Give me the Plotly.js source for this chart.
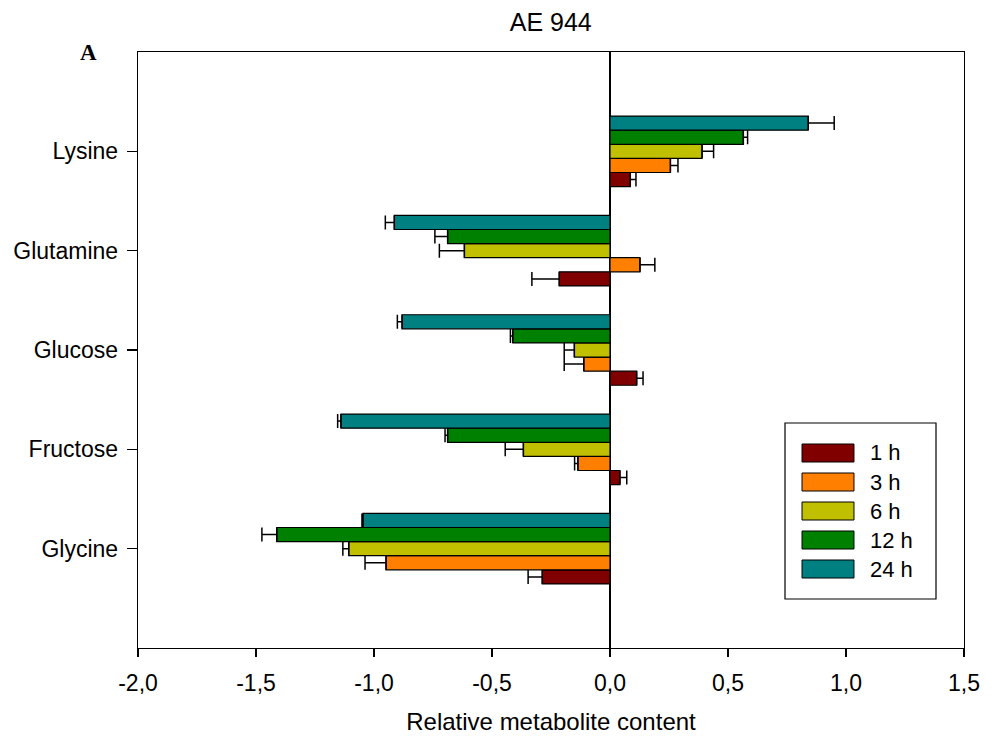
<!DOCTYPE html>
<html>
<head>
<meta charset="utf-8">
<script src="https://cdn.plot.ly/plotly-3.0.1.min.js"></script>
<style>html,body{margin:0;padding:0;background:#fff;}#chart{width:995px;height:737px;}</style>
</head>
<body>
<div id="chart"></div>
<script>
// Categories (bottom to top)
const metabolites = ["Glycine", "Fructose", "Glucose", "Glutamine", "Lysine"];
const seriesNames = ["1 h", "3 h", "6 h", "12 h", "24 h"];
const seriesColors = ["#800000", "#FF8000", "#C0C000", "#008000", "#008080"];

// Values per series, ordered like metabolites
const v1h  = [-0.287,  0.042,  0.113, -0.215, 0.086];
const v3h  = [-0.949, -0.136, -0.111,  0.127, 0.256];
const v6h  = [-1.107, -0.367, -0.151, -0.617, 0.390];
const v12h = [-1.412, -0.688, -0.412, -0.688, 0.565];
const v24h = [-1.047, -1.140, -0.881, -0.914, 0.840];

// Error magnitudes (one-sided, pointing away from zero)
const e1h  = [0.060, 0.029, 0.027, 0.116, 0.024];
const e3h  = [0.089, 0.014, 0.083, 0.063, 0.032];
const e6h  = [0.025, 0.077, 0.043, 0.106, 0.049];
const e12h = [0.063, 0.011, 0.010, 0.054, 0.018];
const e24h = [0.004, 0.014, 0.020, 0.038, 0.110];

const xTickVals = [-2.0, -1.5, -1.0, -0.5, 0.0, 0.5, 1.0, 1.5];
const xTickText = xTickVals.map(v => v.toFixed(1).replace(".", ","));

const values = [v1h, v3h, v6h, v12h, v24h];
const errors = [e1h, e3h, e6h, e12h, e24h];

const FONT = "Liberation Sans, Arial, Helvetica, sans-serif";

const traces = values.map((vals, i) => ({
  type: "bar",
  orientation: "h",
  name: seriesNames[i],
  y: metabolites,
  x: vals,
  marker: { color: seriesColors[i], line: { color: "#000", width: 1.2 } },
  error_x: {
    type: "data",
    symmetric: false,
    array: vals.map((v, j) => v >= 0 ? errors[i][j] : 0),
    arrayminus: vals.map((v, j) => v < 0 ? errors[i][j] : 0),
    color: "#000",
    thickness: 1.5,
    width: 7
  },
  showlegend: false,
  hoverinfo: "x+name"
}));

// Custom legend built from the series arrays
const shapes = [];
const annotations = [];
const lgX0 = 0.7833, lgX1 = 0.9661, lgY0 = 0.0822, lgY1 = 0.3775;
shapes.push({ type: "rect", xref: "paper", yref: "paper", x0: lgX0, x1: lgX1, y0: lgY0, y1: lgY1,
  line: { color: "#000", width: 1.2 }, fillcolor: "#fff", layer: "above" });
seriesNames.forEach((nm, i) => {
  const cy = (648 - (453 + 29 * i)) / 596;
  const h = 9 / 596;
  shapes.push({ type: "rect", xref: "paper", yref: "paper", x0: 0.8039, x1: 0.8668, y0: cy - h, y1: cy + h,
    line: { color: "#000", width: 1 }, fillcolor: seriesColors[i], layer: "above" });
  annotations.push({ xref: "paper", yref: "paper", x: 0.8838, y: cy, xanchor: "left", yanchor: "middle",
    text: nm, showarrow: false, font: { family: FONT, size: 22, color: "#000" } });
});
annotations.push({ xref: "paper", yref: "paper", x: -0.06, y: 1.0, xanchor: "center", yanchor: "middle",
  text: "<b>A</b>", showarrow: false, font: { family: "Liberation Serif, Times New Roman, serif", size: 23, color: "#000" } });

const layout = {
  width: 995, height: 737,
  margin: { l: 138, r: 31, t: 52, b: 89 },
  paper_bgcolor: "#fff", plot_bgcolor: "#fff",
  separators: ",.",
  font: { family: FONT, color: "#000", size: 22 },
  title: { text: "AE 944", x: 0.5535, xanchor: "center", y: 0.970, yanchor: "middle",
           font: { family: FONT, size: 25, color: "#000" } },
  barmode: "group",
  bargap: 0.29,
  bargroupgap: 0,
  xaxis: {
    range: [-2.0, 1.5],
    tickmode: "array",
    tickvals: xTickVals,
    ticktext: xTickText,
    ticks: "outside", ticklen: 8, tickwidth: 1.3, tickcolor: "#000",
    ticklabelstandoff: 6,
    showline: true, linecolor: "#000", linewidth: 1.3, mirror: true,
    showgrid: false, zeroline: true, zerolinecolor: "#000", zerolinewidth: 1.5,
    tickfont: { family: FONT, size: 23 },
    title: { text: "Relative metabolite content", font: { family: FONT, size: 24 }, standoff: 18 }
  },
  yaxis: {
    type: "category",
    categoryorder: "array", categoryarray: metabolites,
    range: [-1, 5],
    ticks: "outside", ticklen: 10, tickwidth: 1.3, tickcolor: "#000",
    ticklabelstandoff: 4,
    showline: true, linecolor: "#000", linewidth: 1.3, mirror: true,
    showgrid: false, zeroline: false,
    tickfont: { family: FONT, size: 23 }
  },
  shapes: shapes,
  annotations: annotations,
  showlegend: false
};

Plotly.newPlot("chart", traces, layout, { displayModeBar: false, staticPlot: true });
</script>
</body>
</html>
